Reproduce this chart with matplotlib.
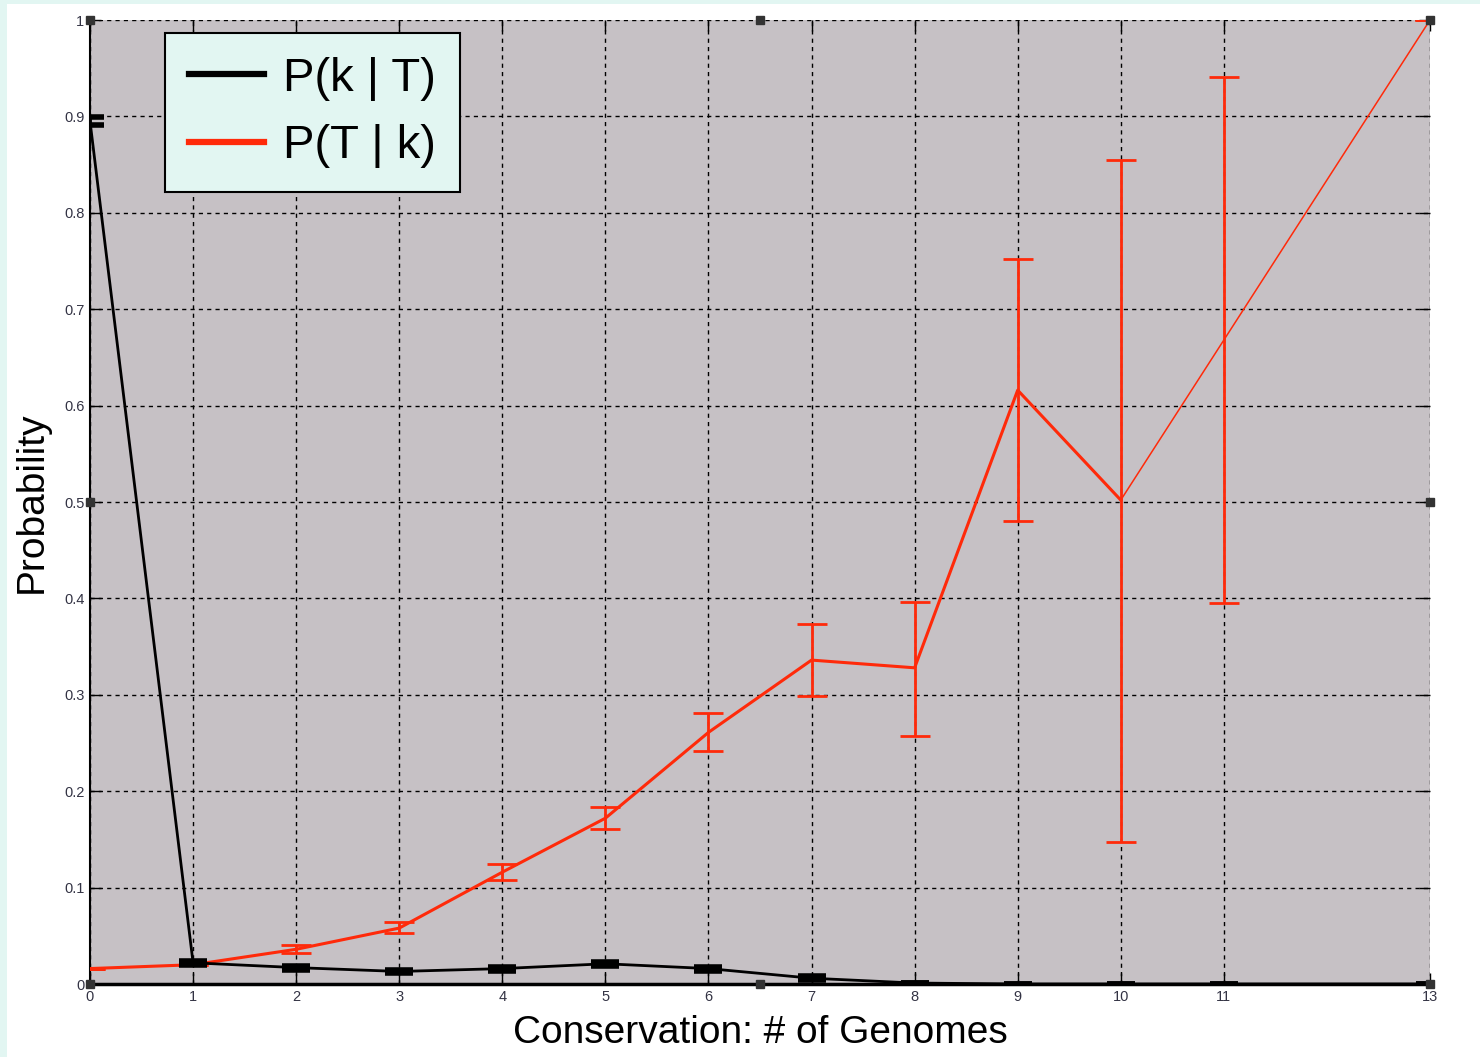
import matplotlib
matplotlib.use("Agg")
from matplotlib import pyplot as plt
from matplotlib.patches import Rectangle

plt.rcParams['font.family'] = ['Liberation Sans', 'DejaVu Sans']

# conservation level (number of genomes)
genomes = [0, 1, 2, 3, 4, 5, 6, 7, 8, 9, 10, 11, 13]
x_ticks = [0, 1, 2, 3, 4, 5, 6, 7, 8, 9, 10, 11, 13]
y_ticks = [0, 0.1, 0.2, 0.3, 0.4, 0.5, 0.6, 0.7, 0.8, 0.9, 1.0]
y_tick_labels = ['0', '0.1', '0.2', '0.3', '0.4', '0.5', '0.6', '0.7', '0.8', '0.9', '1']

# P(k | T)
p_k_given_t = [0.895, 0.022, 0.017, 0.013, 0.016, 0.021, 0.016, 0.006, 0.001, 0.0, 0.0, 0.0, 0.0]
p_k_given_t_err = [0.004, 0.002, 0.002, 0.002, 0.002, 0.002, 0.002, 0.002, 0.0, 0.0, 0.0, 0.0, 0.0]

# P(T | k) with error bars (lower / upper)
p_t_given_k = [0.016, 0.020, 0.036, 0.058, 0.116, 0.172, 0.261, 0.336, 0.328, 0.616, 0.502, 0.668, 1.0]
p_t_lower = [0.016, 0.020, 0.032, 0.053, 0.108, 0.161, 0.242, 0.299, 0.257, 0.480, 0.147, 0.395, 1.0]
p_t_upper = [0.016, 0.020, 0.040, 0.064, 0.125, 0.184, 0.281, 0.373, 0.396, 0.752, 0.855, 0.941, 1.0]

BLACK = '#000000'
RED = '#ff2a0a'
AXES_BG = '#c6c1c5'
FRAME_BG = '#e2f6f2'

fig = plt.figure(figsize=(14.8, 10.57), dpi=100, facecolor=FRAME_BG)
white = Rectangle((7 / 1480, 0), 1 - 7 / 1480, 1 - 4 / 1057,
                  transform=fig.transFigure, facecolor='white',
                  edgecolor='none', zorder=-10)
fig.add_artist(white)
ax = fig.add_axes([90 / 1480, 73 / 1057, 1340 / 1480, 964 / 1057])
ax.set_facecolor(AXES_BG)

# black curve
ax.errorbar(genomes, p_k_given_t, yerr=p_k_given_t_err, color=BLACK, lw=2,
            ecolor=BLACK, elinewidth=2, capsize=10, capthick=4, zorder=4)

# red curve, thinner after x = 10
red_err = [[v - lo for v, lo in zip(p_t_given_k, p_t_lower)],
           [hi - v for v, hi in zip(p_t_given_k, p_t_upper)]]
split = genomes.index(10) + 1
ax.plot(genomes[:split], p_t_given_k[:split], color=RED, lw=2.2, zorder=3)
ax.plot(genomes[split - 1:], p_t_given_k[split - 1:], color=RED, lw=1.1, zorder=3)
ax.errorbar(genomes, p_t_given_k, yerr=red_err, fmt='none', ecolor=RED,
            elinewidth=2, capsize=11, capthick=2, zorder=3)

ax.set_xlim(0, 13)
ax.set_ylim(0, 1)
ax.set_xticks(x_ticks)
ax.set_yticks(y_ticks)
ax.set_yticklabels(y_tick_labels)
ax.grid(True, color='black', linestyle=(0, (3, 3)), linewidth=1)
ax.tick_params(direction='in', length=8, width=1, labelsize=10.5,
               labelcolor='#333344', top=True, right=True, pad=4)
ax.spines['top'].set_visible(False)
ax.spines['right'].set_visible(False)
ax.spines['left'].set_linewidth(1.5)
ax.spines['bottom'].set_linewidth(2.5)

ax.set_xlabel('Conservation: # of Genomes', fontsize=28, labelpad=8)
ax.set_ylabel('Probability', fontsize=28, labelpad=10)

# selection handles
handles_xy = [(0, 0), (0, 0.5), (0, 1), (0.5, 1), (1, 1), (1, 0.5), (1, 0), (0.5, 0)]
for hx, hy in handles_xy:
    ax.plot(hx, hy, marker='s', markersize=6, color='#333333',
            transform=ax.transAxes, clip_on=False, zorder=6)

leg_lines = [plt.Line2D([], [], color=BLACK, lw=4.5),
             plt.Line2D([], [], color=RED, lw=4.5)]
leg = ax.legend(leg_lines, ['P(k | T)', 'P(T | k)'], loc='upper left',
                bbox_to_anchor=(75 / 1340, 1 - 13 / 964), fontsize=34,
                frameon=True, fancybox=False, handlelength=1.6,
                handletextpad=0.4, borderpad=0.5, labelspacing=0.5,
                framealpha=1, borderaxespad=0)
leg.get_frame().set_facecolor(FRAME_BG)
leg.get_frame().set_edgecolor('black')
leg.get_frame().set_linewidth(1.5)
leg.set_zorder(10)

fig.savefig('out.png', dpi=100, facecolor=fig.get_facecolor())
